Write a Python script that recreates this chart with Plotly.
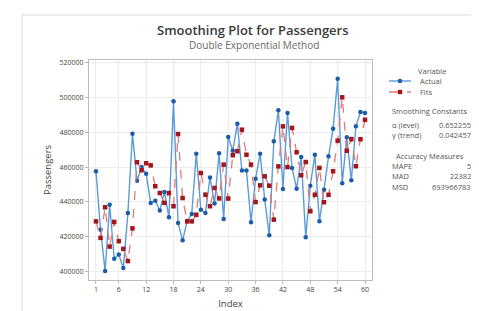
import plotly.graph_objects as go

index = list(range(1, 61))
actual = [457600, 424000, 400300, 438400, 407300, 409700, 402000, 433600, 479200, 452200,
          460000, 456200, 439400, 440700, 435000, 445700, 431100, 497800, 427900, 417900,
          429000, 433000, 467700, 435500, 433600, 454000, 439000, 468000, 430200, 477300,
          469400, 484900, 458000, 458000, 428300, 453300, 467700, 441300, 420800, 474800,
          492600, 447400, 491100, 459500, 447600, 465800, 419600, 449300, 467100, 428800,
          447000, 466200, 482100, 510800, 450700, 477100, 452400, 483400, 491700, 491100]
fits = [428800, 419300, 436900, 414300, 428500, 417400, 413000, 406000, 424800, 462800,
        458200, 462200, 461000, 449000, 445100, 439400, 445100, 437500, 479000, 442200,
        428800, 428800, 432600, 456600, 444100, 437500, 448000, 442000, 461400, 441900,
        466800, 469100, 481500, 467100, 461400, 439900, 449500, 454700, 449300, 429800,
        460400, 483400, 460000, 482500, 468500, 455300, 462900, 434600, 444100, 459500,
        439800, 444100, 457600, 475200, 500100, 469400, 476100, 460500, 476000, 487200]
x_ticks = [1, 6, 12, 18, 24, 30, 36, 42, 48, 54, 60]
y_ticks = [400000, 420000, 440000, 460000, 480000, 500000, 520000]

title = "Smoothing Plot for Passengers"
subtitle = "Double Exponential Method"
legend_title = "Variable"
series_names = ["Actual", "Fits"]
const_rows = [("α (level)", "0.652255"), ("γ (trend)", "0.042457")]
acc_rows = [("MAPE", "5"), ("MAD", "22382"), ("MSD", "693966783")]

W, H = 479, 311
L, R, T, B = 81, 115, 52, 39
pw = W - L - R
ph = H - T - B

def px(xp):
    return (xp - L) / pw

def py(yp):
    return 1 - (yp - T) / ph

FONT = "Open Sans"
GRAY = "#555555"
BLUE_LINE, BLUE_MK = "#5d9bd8", "#1c5cab"
RED_LINE, RED_MK = "#dc7c77", "#a3161b"

fig = go.Figure()
fig.add_trace(go.Scatter(
    x=index, y=actual, name=series_names[0], mode="lines+markers",
    line=dict(color=BLUE_LINE, width=1.4),
    marker=dict(color=BLUE_MK, size=4.5, symbol="circle"),
))
fig.add_trace(go.Scatter(
    x=index, y=fits, name=series_names[1], mode="lines+markers",
    line=dict(color=RED_LINE, width=1.3, dash="dash"),
    marker=dict(color=RED_MK, size=4.5, symbol="square"),
))

ann = []
ann.append(dict(text=title, x=245, y=22, font=dict(size=13, color="#3a3a3a", family=FONT, weight=600)))
ann.append(dict(text=subtitle, x=246, y=37, font=dict(size=10, color="#6a6a6a", family=FONT)))
ann.append(dict(text=legend_title, x=424, y=62.5, font=dict(size=7.5, color=GRAY, family=FONT)))
ann.append(dict(text=series_names[0], x=410, y=73, xanchor="left", font=dict(size=7.5, color=GRAY, family=FONT)))
ann.append(dict(text=series_names[1], x=410, y=84, xanchor="left", font=dict(size=7.5, color=GRAY, family=FONT)))
ann.append(dict(text="Smoothing Constants", x=382, y=103, xanchor="left", font=dict(size=7.5, color=GRAY, family=FONT)))
yy = 116.5
for lab, val in const_rows:
    ann.append(dict(text=lab, x=382, y=yy, xanchor="left", font=dict(size=7.5, color=GRAY, family=FONT)))
    ann.append(dict(text=val, x=465, y=yy, xanchor="right", font=dict(size=7.5, color=GRAY, family=FONT)))
    yy += 10
ann.append(dict(text="Accuracy Measures", x=422, y=148, font=dict(size=7.5, color=GRAY, family=FONT)))
yy = 157.5
for lab, val in acc_rows:
    ann.append(dict(text=lab, x=382, y=yy, xanchor="left", font=dict(size=7.5, color=GRAY, family=FONT)))
    ann.append(dict(text=val, x=465, y=yy, xanchor="right", font=dict(size=7.5, color=GRAY, family=FONT)))
    yy += 10.8

annotations = []
for a in ann:
    d = dict(xref="paper", yref="paper", x=px(a["x"]), y=py(a["y"]), showarrow=False,
             yanchor="middle", xanchor=a.get("xanchor", "center"), text=a["text"], font=a["font"])
    annotations.append(d)

shapes = [dict(type="rect", xref="paper", yref="paper", x0=px(14), x1=px(478), y0=py(306), y1=py(7),
               line=dict(color="#d9d9d9", width=1), layer="below")]
# legend keys
shapes.append(dict(type="line", xref="paper", yref="paper", x0=px(381), x1=px(403), y0=py(73), y1=py(73),
                   line=dict(color=BLUE_LINE, width=1.4)))
shapes.append(dict(type="circle", xref="paper", yref="paper", x0=px(389.8), x1=px(394.2), y0=py(75.2), y1=py(70.8),
                   fillcolor=BLUE_MK, line=dict(width=0)))
shapes.append(dict(type="line", xref="paper", yref="paper", x0=px(381), x1=px(403), y0=py(84), y1=py(84),
                   line=dict(color=RED_LINE, width=1.3, dash="dash")))
shapes.append(dict(type="rect", xref="paper", yref="paper", x0=px(389.8), x1=px(394.2), y0=py(86.2), y1=py(81.8),
                   fillcolor=RED_MK, line=dict(width=0)))

fig.update_layout(
    width=W, height=H,
    margin=dict(l=L, r=R, t=T, b=B),
    paper_bgcolor="white", plot_bgcolor="white",
    annotations=annotations,
    shapes=shapes,
    showlegend=False,
    xaxis=dict(range=[-0.53, 61.53], tickvals=x_ticks, showgrid=True, gridcolor="#ececec",
               showline=True, mirror=True, linecolor="#bdbdbd", linewidth=1,
               ticks="outside", ticklen=3, tickcolor="#bdbdbd",
               tickfont=dict(size=7, color="#444444", family=FONT),
               title=dict(text="Index", font=dict(size=9.5, color="#444444", family=FONT), standoff=6),
               zeroline=False),
    yaxis=dict(range=[395100, 521550], tickvals=y_ticks, tickformat="d", showgrid=True, gridcolor="#ececec",
               showline=True, mirror=True, linecolor="#bdbdbd", linewidth=1,
               ticks="outside", ticklen=3, tickcolor="#bdbdbd",
               tickfont=dict(size=7, color="#444444", family=FONT),
               title=dict(text="Passengers", font=dict(size=9.5, color="#444444", family=FONT), standoff=6),
               zeroline=False),
)

fig.write_html("out.html")
